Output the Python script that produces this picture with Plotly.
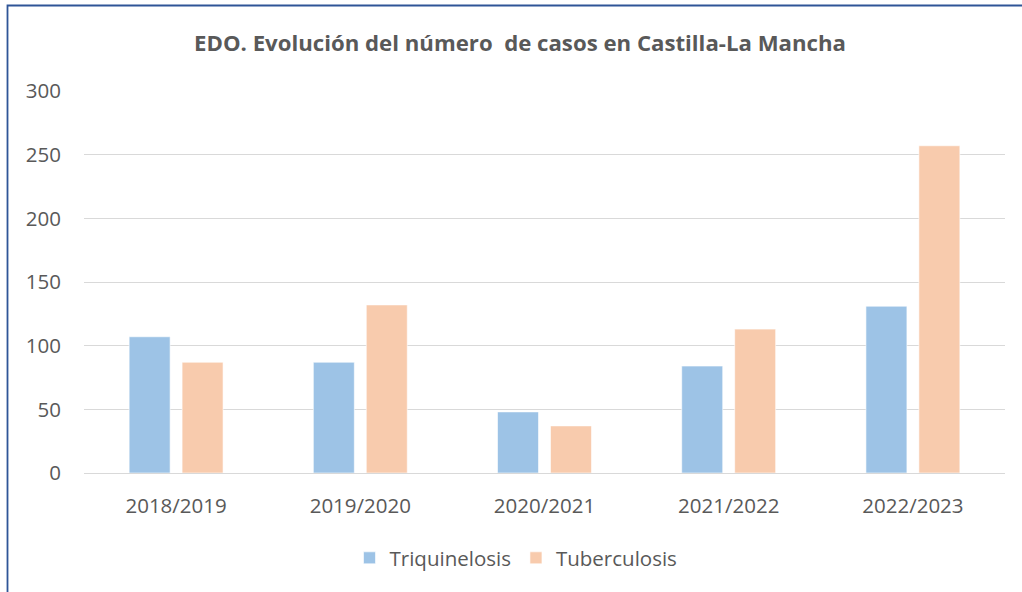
import plotly.graph_objects as go

categories = ["2018/2019", "2019/2020", "2020/2021", "2021/2022", "2022/2023"]
triquinelosis = [107, 87, 48, 84, 131]
tuberculosis = [87, 132, 37, 113, 257]
y_ticks = [0, 50, 100, 150, 200, 250, 300]
title_text = "EDO. Evolución del número  de casos en Castilla-La Mancha"

W, H = 1022, 592
L, R, T, B = 84, 17, 91, 119
pw, ph = W - L - R, H - T - B

def px_x(p):
    return (p - L) / pw

def px_y(p):
    return (H - B - p) / ph

font = "Open Sans"
gray = "#595959"
fs = 20.5

fig = go.Figure()
fig.add_trace(go.Bar(x=categories, y=triquinelosis, name="Triquinelosis",
                     marker=dict(color="#9DC3E6", line=dict(color="white", width=0.6))))
fig.add_trace(go.Bar(x=categories, y=tuberculosis, name="Tuberculosis",
                     marker=dict(color="#F8CBAD", line=dict(color="white", width=0.6))))

fig.update_layout(
    width=W, height=H,
    margin=dict(l=L, r=R, t=T, b=B),
    paper_bgcolor="white", plot_bgcolor="white",
    barmode="group", bargap=0.425, bargroupgap=0.226,
    title=dict(text=f"<b>{title_text}</b>", x=520 / W, xanchor="center",
               y=1 - 43 / H, yanchor="middle", yref="container",
               font=dict(family=font, size=22.2, color=gray)),
    font=dict(family=font, size=fs, color=gray),
    legend=dict(orientation="h", x=px_x(516), xanchor="center",
                y=px_y(558), yanchor="middle",
                font=dict(family=font, size=fs, color=gray),
                itemwidth=30, traceorder="normal"),
    xaxis=dict(showgrid=False, showline=True, linecolor="#D9D9D9", linewidth=1,
               ticks="", tickfont=dict(family=font, size=fs, color=gray),
               ticklabelstandoff=14),
    yaxis=dict(range=[0, 300], tickvals=y_ticks, showgrid=True, gridcolor="#D9D9D9",
               gridwidth=1, zeroline=False, showline=False, ticks="",
               tickfont=dict(family=font, size=fs, color=gray),
               ticklabelstandoff=22),
    shapes=[dict(type="rect", xref="paper", yref="paper",
                 x0=px_x(7.5), x1=px_x(1035), y0=px_y(605), y1=px_y(5.5),
                 line=dict(color="#2F5597", width=1.8), fillcolor="rgba(0,0,0,0)",
                 layer="above")],
)

fig.write_html("out.html", config={"displayModeBar": False},
               post_script="document.body.style.margin='0';document.body.style.overflow='hidden';")
